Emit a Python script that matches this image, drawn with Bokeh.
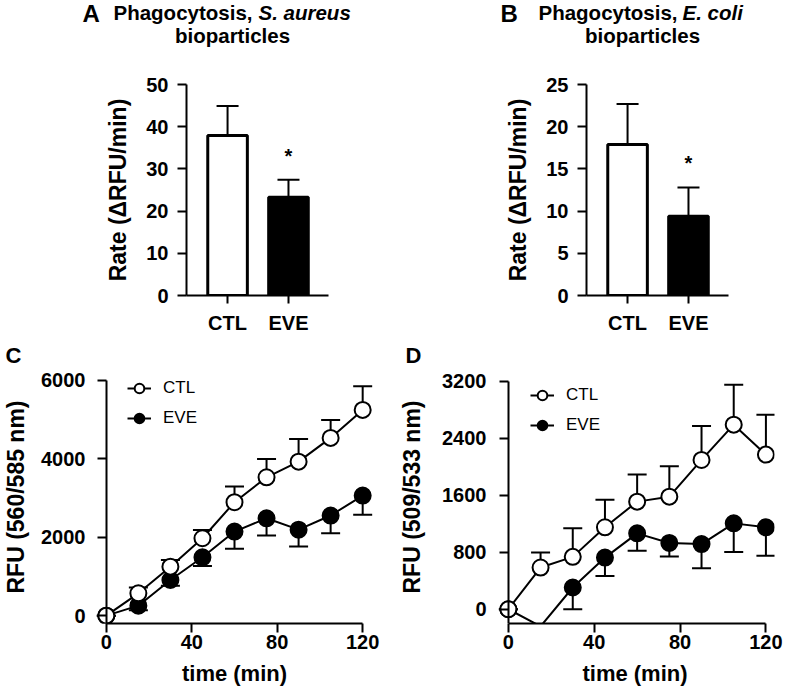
import numpy as np
from bokeh.plotting import figure
from bokeh.models import Range1d, FixedTicker, Legend, LegendItem, LinearAxis
from bokeh.layouts import column, row
from bokeh.embed import file_html
from bokeh.resources import INLINE
from bokeh.core.properties import value

# ---------------- data ----------------
groups = ["CTL", "EVE"]
sa_rate_mean = [37.9, 23.3]
sa_rate_sem = [7.0, 4.1]
ec_rate_mean = [17.9, 9.4]
ec_rate_sem = [4.8, 3.4]
sig_marks = ["", "*"]

time_min = [0, 15, 30, 45, 60, 75, 90, 105, 120]
c_ctl_mean = [0, 570, 1250, 1975, 2895, 3530, 3930, 4535, 5250]
c_ctl_sem = [0, 150, 170, 210, 400, 470, 580, 460, 600]
c_eve_mean = [0, 255, 910, 1490, 2145, 2485, 2195, 2555, 3065]
c_eve_sem = [0, 120, 150, 220, 440, 440, 430, 450, 490]

d_ctl_mean = [0, 585, 735, 1150, 1510, 1580, 2095, 2590, 2170]
d_ctl_sem = [0, 210, 400, 385, 380, 425, 475, 560, 560]
d_eve_mean = [0, -240, 305, 725, 1065, 930, 915, 1205, 1150]
d_eve_sem = [0, 200, 305, 260, 245, 190, 340, 400, 400]

c_yticks = [0, 2000, 4000, 6000]
d_yticks = [0, 800, 1600, 2400, 3200]
x_ticks = [0, 40, 80, 120]

titles_species = ["S. aureus", "E. coli"]
panel_letters = ["A", "B", "C", "D"]

FONT = "Liberation Sans"
TOTAL_W = 784


def style_axes(p):
    for ax in list(p.xaxis) + list(p.yaxis):
        ax.axis_line_width = 2
        ax.axis_line_color = "black"
        ax.major_tick_line_width = 2
        ax.major_tick_line_color = "black"
        ax.major_tick_out = 9
        ax.major_tick_in = 0
        ax.minor_tick_out = 0
        ax.minor_tick_in = 0
        ax.major_label_text_font = FONT
        ax.major_label_text_font_style = "bold"
        ax.major_label_text_color = "black"
        ax.axis_label_text_font = FONT
        ax.axis_label_text_font_style = "bold"
        ax.axis_label_text_color = "black"
    p.xgrid.visible = False
    p.ygrid.visible = False
    p.outline_line_color = None


def text_strip(h, items):
    """A strip whose frame is the whole canvas, coordinates in pixels (y down)."""
    p = figure(width=TOTAL_W, height=h, x_range=Range1d(0, TOTAL_W), y_range=Range1d(h, 0),
               x_axis_location=None, y_axis_location=None, title=None,
               min_border=0, min_border_left=0, min_border_right=0, min_border_top=0, min_border_bottom=0,
               output_backend="svg", toolbar_location=None, outline_line_color=None)
    p.grid.visible = False
    for x, y, txt, size, style, align in items:
        p.text(x=[x], y=[y], text=[txt], text_font=value(FONT), text_font_size=size,
               text_font_style=style, text_align=align, text_baseline="alphabetic",
               text_color="black")
    return p


def bar_panel(mean, sem, ymax, ystep, w, h, mb):
    p = figure(width=w, height=h, x_range=Range1d(-0.674, 1.657), y_range=Range1d(0, ymax),
               output_backend="svg", toolbar_location=None,
               min_border_left=mb[0], min_border_right=mb[1], min_border_top=mb[2], min_border_bottom=mb[3])
    xs = list(range(len(groups)))
    tops = [m + s for m, s in zip(mean, sem)]
    p.segment(x0=xs, y0=mean, x1=xs, y1=tops, line_width=2, line_color="black")
    p.scatter(x=xs, y=tops, marker="dash", size=22, line_width=2, line_color="black")
    p.vbar(x=xs, top=mean, bottom=0, width=0.65, fill_color=["white", "black"],
           line_color="black", line_width=3)
    p.text(x=xs, y=tops, text=sig_marks, text_font=value(FONT), text_font_style="bold",
           text_font_size="20px", text_align="center", text_baseline="alphabetic",
           y_offset=-24, text_color="black")
    style_axes(p)
    p.xaxis.ticker = FixedTicker(ticks=xs)
    p.xaxis.major_label_overrides = {x: g for x, g in zip(xs, groups)}
    p.xaxis.major_tick_out = 8
    p.xaxis.major_label_standoff = 8
    p.xaxis.major_label_text_font_size = "20px"
    p.yaxis.ticker = FixedTicker(ticks=list(np.arange(0, ymax + ystep / 2, ystep)))
    p.yaxis.major_label_text_font_size = "20px"
    p.yaxis.major_label_standoff = 9
    p.yaxis.axis_label = "Rate (\u0394RFU/min)"
    p.yaxis.axis_label_text_font_size = "23px"
    p.yaxis.axis_label_standoff = 12
    return p


def line_panel(ctl_m, ctl_s, eve_m, eve_s, ytop_axis, ytop, yticks, ylabel, w, h, mb, xmax,
               lab_standoff, axlab_standoff, legloc):
    ylo = -200
    p = figure(width=w, height=h, x_range=Range1d(-6, xmax), y_range=Range1d(ylo, ytop),
               output_backend="svg", toolbar_location=None,
               min_border_left=mb[0], min_border_right=mb[1], min_border_top=mb[2], min_border_bottom=mb[3])
    t = np.array(time_min, dtype=float)
    renderers = {}
    for name, m, s, fill, sign in [("EVE", eve_m, eve_s, "black", -1), ("CTL", ctl_m, ctl_s, "white", 1)]:
        m = np.array(m, dtype=float)
        s = np.array(s, dtype=float)
        shown = np.where(m >= ylo, m, np.nan)
        end = shown + sign * s
        ln = p.line(t, m, line_width=2, line_color="black")
        p.segment(x0=t, y0=shown, x1=t, y1=end, line_width=2, line_color="black")
        p.scatter(x=t, y=end, marker="dash", size=19, line_width=2, line_color="black")
        mk = p.scatter(x=t, y=shown, marker="circle", size=16, fill_color=fill,
                       line_color="black", line_width=2)
        renderers[name] = [ln, mk]
    style_axes(p)
    # label-carrying y axis (at frame edge, line & ticks hidden)
    ya = p.yaxis[0]
    ya.ticker = FixedTicker(ticks=yticks)
    ya.axis_line_color = None
    ya.major_tick_line_color = None
    ya.major_tick_out = 0
    ya.major_label_text_font_size = "20px"
    ya.major_label_standoff = lab_standoff
    ya.axis_label = ylabel
    ya.axis_label_text_font_size = "23px"
    ya.axis_label_standoff = axlab_standoff
    # visible y axis line + ticks at time 0
    yline = LinearAxis(fixed_location=0, bounds=(ylo, ytop_axis), ticker=FixedTicker(ticks=yticks),
                       axis_line_width=2, axis_line_color="black",
                       major_tick_line_width=2, major_tick_line_color="black",
                       major_tick_out=9, major_tick_in=0, minor_tick_out=0, minor_tick_in=0,
                       major_label_overrides={tk: "" for tk in yticks},
                       major_label_text_alpha=0, major_label_text_font_size="1px")
    p.add_layout(yline, "left")
    p.xaxis.bounds = (0, 120)
    p.xaxis.ticker = FixedTicker(ticks=x_ticks)
    p.xaxis.major_label_text_font_size = "20px"
    p.xaxis.major_label_standoff = 2
    p.xaxis.axis_label = "time (min)"
    p.xaxis.axis_label_text_font_size = "22px"
    p.xaxis.axis_label_standoff = 9
    legend = Legend(items=[LegendItem(label="CTL", renderers=renderers["CTL"]),
                           LegendItem(label="EVE", renderers=renderers["EVE"])],
                    location=legloc, orientation="vertical", glyph_width=24, glyph_height=26,
                    label_height=26, spacing=4, padding=0, margin=0, label_standoff=12,
                    label_text_font=FONT, label_text_font_size="17px", label_text_color="black",
                    border_line_alpha=0, background_fill_alpha=0)
    p.add_layout(legend)
    return p


# text strips: positions in pixels (baseline values corrected for the renderer's baseline shift)
top_strip = text_strip(58, [
    (82, 13, panel_letters[0], "24px", "bold", "left"),
    (113, 12, "Phagocytosis, ", "20.5px", "bold", "left"),
    (258, 12, titles_species[0], "20.5px", "bold italic", "left"),
    (232, 35, "bioparticles", "20.5px", "bold", "center"),
    (500, 13, panel_letters[1], "24px", "bold", "left"),
    (538, 12, "Phagocytosis, ", "20.5px", "bold", "left"),
    (682, 12, titles_species[1], "20.5px", "bold italic", "left"),
    (642, 35, "bioparticles", "20.5px", "bold", "center"),
])
mid_strip = text_strip(26, [
    (5, 12.8, panel_letters[2], "22px", "bold", "left"),
    (405, 12.8, panel_letters[3], "22px", "bold", "left"),
])

pA = bar_panel(sa_rate_mean, sa_rate_sem, 50, 10, 390, 284, (186, 62, 26, 44))
pB = bar_panel(ec_rate_mean, ec_rate_sem, 25, 5, 394, 284, (196, 56, 22, 47))
pC = line_panel(c_ctl_mean, c_ctl_sem, c_eve_mean, c_eve_sem, 6000, 6255, c_yticks, "RFU (560/585 nm)",
                390, 320, (91, 15, 2, 65), 126, 8, 9, (34, 192))
pD = line_panel(d_ctl_mean, d_ctl_sem, d_eve_mean, d_eve_sem, 3200, 3350, d_yticks, "RFU (509/533 nm)",
                394, 320, (105, 10, 2, 65), 124, 9, 14, (35, 185))

layout = column(top_strip, row(pA, pB), mid_strip, row(pC, pD))
open("out.html", "w").write(file_html(layout, INLINE))
